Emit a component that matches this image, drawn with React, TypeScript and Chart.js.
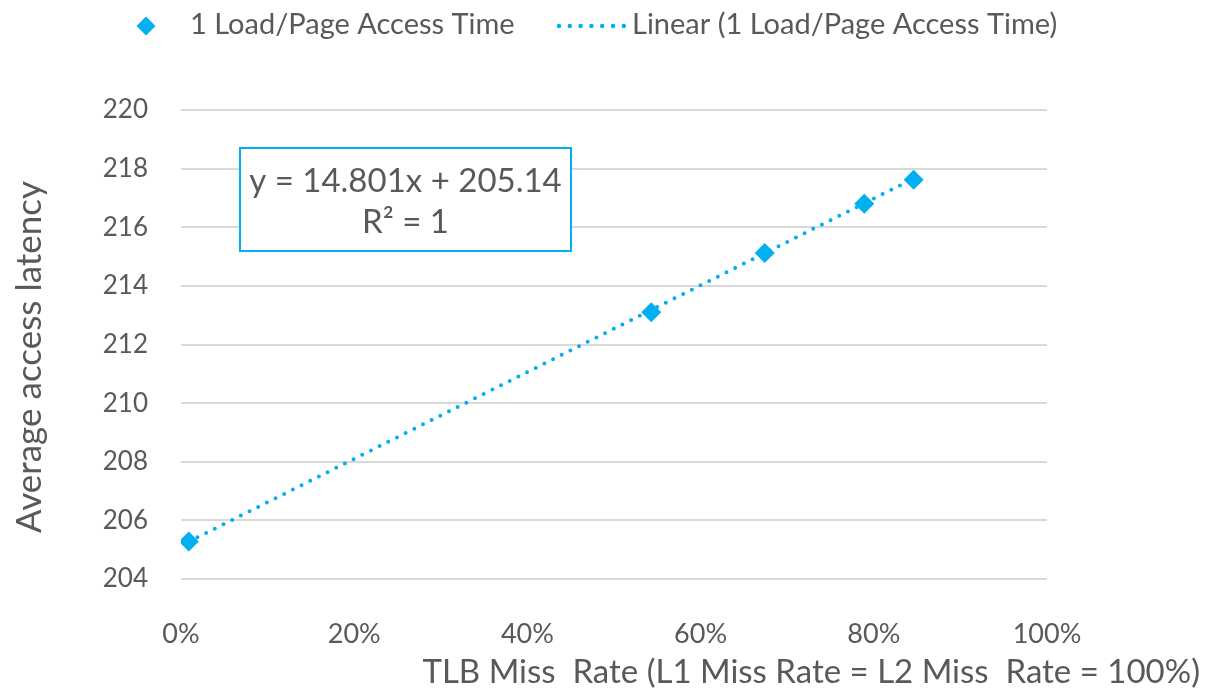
import React, { useEffect, useRef } from "react";
import { Chart, registerables } from "chart.js";

Chart.register(...registerables);

const seriesName = "1 Load/Page Access Time";
const trendName = "Linear (1 Load/Page Access Time)";
const missRates = [0.009, 0.543, 0.674, 0.789, 0.846];
const latencies = [205.28, 213.1, 215.12, 216.8, 217.62];
const trendSlope = 14.801;
const trendIntercept = 205.14;
const equationLines = ["y = 14.801x + 205.14", "R² = 1"];
const xTitle = "TLB Miss  Rate (L1 Miss Rate = L2 Miss  Rate = 100%)";
const yTitle = "Average access latency";

const BLUE = "#00B0F0";
const TEXT = "#595959";
const FONT = "Lato, 'Open Sans', sans-serif";

export default function App() {
  const ref = useRef<HTMLCanvasElement | null>(null);
  useEffect(() => {
    document.body.style.margin = "0";
    const canvas = ref.current;
    if (!canvas) return;
    const points = missRates.map((x, i) => ({ x, y: latencies[i] }));
    const x0 = missRates[0];
    const x1 = missRates[missRates.length - 1];
    const trend = [
      { x: x0, y: trendSlope * x0 + trendIntercept },
      { x: x1, y: trendSlope * x1 + trendIntercept },
    ];

    const overlay = {
      id: "overlay",
      afterDraw(chart: any) {
        const ctx = chart.ctx as CanvasRenderingContext2D;
        const area = chart.chartArea;
        ctx.save();
        // Legend
        ctx.fillStyle = BLUE;
        const lx = 146, ly = 26, r = 9.5;
        ctx.beginPath();
        ctx.moveTo(lx, ly - r);
        ctx.lineTo(lx + r, ly);
        ctx.lineTo(lx, ly + r);
        ctx.lineTo(lx - r, ly);
        ctx.closePath();
        ctx.fill();
        ctx.font = `29px ${FONT}`;
        ctx.fillStyle = TEXT;
        ctx.textBaseline = "middle";
        ctx.textAlign = "left";
        ctx.fillText(seriesName, 190, ly - 1);
        ctx.strokeStyle = BLUE;
        ctx.lineWidth = 4.5;
        ctx.lineCap = "round";
        ctx.setLineDash([0, 10.8]);
        ctx.beginPath();
        ctx.moveTo(559, ly);
        ctx.lineTo(626, ly);
        ctx.stroke();
        ctx.setLineDash([]);
        ctx.fillText(trendName, 632, ly - 1);

        // Equation box
        const bx = 240, by = 148, bw = 331, bh = 103;
        ctx.fillStyle = "#ffffff";
        ctx.fillRect(bx, by, bw, bh);
        ctx.strokeStyle = BLUE;
        ctx.lineWidth = 2;
        ctx.strokeRect(bx, by, bw, bh);
        ctx.fillStyle = TEXT;
        ctx.font = `33px ${FONT}`;
        ctx.textAlign = "center";
        ctx.fillText(equationLines[0], bx + bw / 2, by + 33);
        ctx.fillText(equationLines[1], bx + bw / 2, by + 74);

        // Axis titles
        ctx.font = `33px ${FONT}`;
        ctx.textAlign = "right";
        ctx.fillText(xTitle, area.right + 153, 672);
        ctx.save();
        ctx.font = `35px ${FONT}`;
        ctx.translate(30, 357);
        ctx.rotate(-Math.PI / 2);
        ctx.textAlign = "center";
        ctx.fillText(yTitle, 0, 0);
        ctx.restore();
        ctx.restore();
      },
    };

    const chart = new Chart(canvas, {
      type: "scatter",
      data: {
        datasets: [
          {
            type: "line",
            label: trendName,
            data: trend,
            borderColor: BLUE,
            borderWidth: 4,
            borderDash: [0, 9.7],
            borderCapStyle: "round",
            pointRadius: 0,
            fill: false,
          } as any,
          {
            label: seriesName,
            data: points,
            backgroundColor: BLUE,
            borderColor: BLUE,
            pointStyle: "rectRot",
            pointRadius: 10,
            pointBorderWidth: 0,
          },
        ],
      },
      options: {
        animation: false,
        responsive: false,
        layout: { padding: { top: 110, right: 160, left: 0, bottom: 0 } },
        plugins: { legend: { display: false }, tooltip: { enabled: false } },
        scales: {
          x: {
            type: "linear",
            min: 0,
            max: 1,
            grid: { display: false },
            border: { display: false },
            ticks: {
              stepSize: 0.2,
              color: TEXT,
              font: { family: FONT, size: 27 },
              padding: 31,
              callback: (v: any) => `${Math.round(Number(v) * 100)}%`,
            },
            afterFit: (s: any) => {
              s.height = 117;
            },
          },
          y: {
            type: "linear",
            min: 204,
            max: 220,
            grid: { color: "#D9D9D9", lineWidth: 2, drawTicks: false },
            border: { display: false },
            ticks: {
              stepSize: 2,
              color: TEXT,
              font: { family: FONT, size: 26 },
              padding: 33,
            },
            afterFit: (s: any) => {
              s.width = 181;
            },
          },
        },
      },
      plugins: [overlay],
    });
    return () => chart.destroy();
  }, []);
  return (
    <div style={{ position: "fixed", left: 0, top: 0, width: 1207, height: 696, background: "#fff" }}>
      <canvas ref={ref} width={1207} height={696} />
    </div>
  );
}
